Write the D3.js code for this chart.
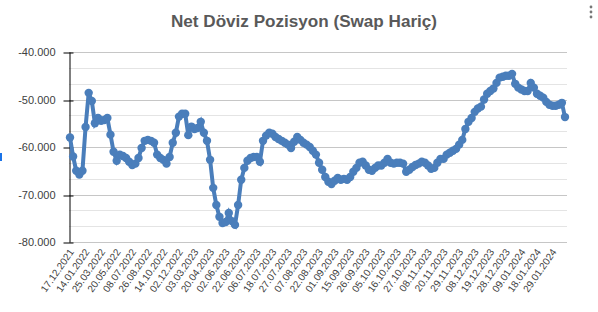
<!DOCTYPE html>
<html>
<head>
<meta charset="utf-8">
<script src="https://cdn.jsdelivr.net/npm/d3@7"></script>
<style>
  html, body { margin: 0; padding: 0; background: #fff; }
  svg { display: block; font-family: 'Liberation Sans', Arial, sans-serif; }
</style>
</head>
<body>
<svg id="chart"></svg>
<script>
const title = 'Net Döviz Pozisyon (Swap Hariç)'

const values = [
  -58000, -62000, -65000, -65800, -65000, -55800, -48600, -50300, -55000, -53900,
  -54500, -54300, -53900, -57400, -61000, -62900, -61600, -61900, -62300, -63100,
  -63800, -63500, -62300, -60200, -58700, -58500, -58700, -59100, -61600, -62300,
  -62700, -63500, -62100, -59100, -57000, -53600, -53000, -53000, -57500, -55700,
  -56200, -56000, -54700, -57000, -58700, -62700, -68600, -72200, -74700, -76000,
  -75800, -73900, -75600, -76400, -72200, -66900, -64400, -62900, -62300, -62100,
  -62100, -63100, -58700, -57600, -57000, -57200, -57900, -58300, -58700, -59100,
  -59500, -60200, -58900, -57900, -58500, -59100, -59500, -60000, -60800, -61600,
  -63300, -64800, -66300, -67300, -67800, -67100, -66500, -66900, -66700, -66900,
  -66300, -65200, -64400, -63300, -63100, -63900, -64800, -65000, -64400, -63900,
  -63900, -63300, -62500, -63300, -63500, -63300, -63300, -63500, -65200, -64800,
  -64200, -63800, -63500, -63100, -63300, -63900, -64600, -64400, -63300, -62500,
  -62500, -61600, -61200, -60800, -60400, -59500, -58500, -56200, -54700, -53900,
  -52600, -51900, -51500, -50000, -48800, -48200, -47700, -46500, -45400, -45200,
  -45000, -45000, -44600, -46700, -47500, -47900, -48200, -48200, -46500, -47500,
  -48800, -49200, -49600, -50500, -51100, -51300, -51300, -51100, -50700, -53700
]

// every 5th observation carries a label
const labelEvery = 5
const tickLabels = [
  '17.12.2021', '14.01.2022', '25.03.2022', '20.05.2022', '08.07.2022', '26.08.2022',
  '14.10.2022', '02.12.2022', '03.03.2023', '20.04.2023', '02.06.2023', '22.06.2023',
  '06.07.2023', '18.07.2023', '27.07.2023', '07.08.2023', '22.08.2023', '01.09.2023',
  '15.09.2023', '26.09.2023', '05.10.2023', '16.10.2023', '27.10.2023', '08.11.2023',
  '20.11.2023', '29.11.2023', '08.12.2023', '19.12.2023', '28.12.2023', '09.01.2024',
  '18.01.2024', '29.01.2024'
]

const yTicks = [-40000, -50000, -60000, -70000, -80000]

const w = 598
const h = 312
const plot = { left: 69, right: 567, top: 52, bottom: 242 }

const trFormat = d3.formatLocale({
  decimal: ',',
  thousands: '.',
  grouping: [3],
  currency: ['', ''],
  minus: '-',
}).format(',.0f')

const svg = d3.select('#chart').attr('width', w).attr('height', h)

const x = d3
  .scalePoint()
  .domain(d3.range(values.length))
  .range([70, 565])

const y = d3
  .scaleLinear()
  .domain([-80000, -40000])
  .range([plot.bottom, plot.top])

// minor grid (3 per major step)
const minor = d3.range(-80000, -40000, 10000 / 3).filter((d, i) => i % 3 !== 0)
svg
  .append('g')
  .selectAll('line')
  .data(minor)
  .join('line')
  .attr('x1', plot.left)
  .attr('x2', plot.right)
  .attr('y1', (d) => Math.round(y(d)) + 0.5)
  .attr('y2', (d) => Math.round(y(d)) + 0.5)
  .attr('stroke', '#e4e4e4')

svg
  .append('g')
  .selectAll('line')
  .data(yTicks)
  .join('line')
  .attr('x1', plot.left)
  .attr('x2', plot.right)
  .attr('y1', (d) => Math.round(y(d)) + 0.5)
  .attr('y2', (d) => Math.round(y(d)) + 0.5)
  .attr('stroke', '#c6c6c6')

// y axis
const yAxis = svg
  .append('g')
  .attr('transform', `translate(${plot.left + 0.5},0)`)
  .call(
    d3
      .axisLeft(y)
      .tickValues(yTicks)
      .tickFormat(trFormat)
      .tickSizeInner(6)
      .tickSizeOuter(0)
      .tickPadding(8)
  )
yAxis.select('.domain').attr('stroke', '#000')
yAxis.selectAll('.tick line').attr('stroke', '#000').attr('x2', -6).attr('x1', 4)
yAxis
  .selectAll('.tick text')
  .attr('fill', '#404040')
  .style('font-size', '11px')
  .attr('x', -14)
yAxis.selectAll('.tick line').attr('transform', (d) => {
  const yy = Math.round(y(d)) + 0.5 - y(d)
  return `translate(0,${yy})`
})

// x axis labels
const xAxis = svg
  .append('g')
  .attr('transform', `translate(0,${plot.bottom})`)
  .call(
    d3
      .axisBottom(x)
      .tickValues(d3.range(0, values.length, labelEvery))
      .tickFormat((d) => tickLabels[d / labelEvery])
      .tickSize(0)
  )
xAxis.select('.domain').remove()
xAxis
  .selectAll('.tick text')
  .attr('fill', '#404040')
  .style('font-size', '10px')
  .attr('text-anchor', 'end')
  .attr('dy', null)
  .attr('y', 0)
  .attr('transform', 'translate(4,10) rotate(-55)')

// line + markers
const lineColor = '#4a7ebb'
svg
  .append('path')
  .datum(values)
  .attr('fill', 'none')
  .attr('stroke', lineColor)
  .attr('stroke-width', 4)
  .attr('d', d3.line().x((d, i) => x(i)).y((d) => y(d)))

svg
  .append('g')
  .selectAll('circle')
  .data(values)
  .join('circle')
  .attr('cx', (d, i) => x(i))
  .attr('cy', (d) => y(d))
  .attr('r', 4.2)
  .attr('fill', lineColor)

// title
svg
  .append('text')
  .attr('x', 304)
  .attr('y', 27)
  .attr('text-anchor', 'middle')
  .attr('fill', '#595959')
  .style('font-size', '16px')
  .style('font-weight', 'bold')
  .attr('textLength', 266)
  .attr('lengthAdjust', 'spacingAndGlyphs')
  .text(title)

// menu dots + side marker from the screenshot
svg
  .append('g')
  .selectAll('circle')
  .data([7, 12, 17])
  .join('circle')
  .attr('cx', 591)
  .attr('cy', (d) => d)
  .attr('r', 1.4)
  .attr('fill', '#777')

svg
  .append('rect')
  .attr('x', 0)
  .attr('y', 153)
  .attr('width', 2)
  .attr('height', 8)
  .attr('fill', '#1a73e8')
</script>
</body>
</html>
